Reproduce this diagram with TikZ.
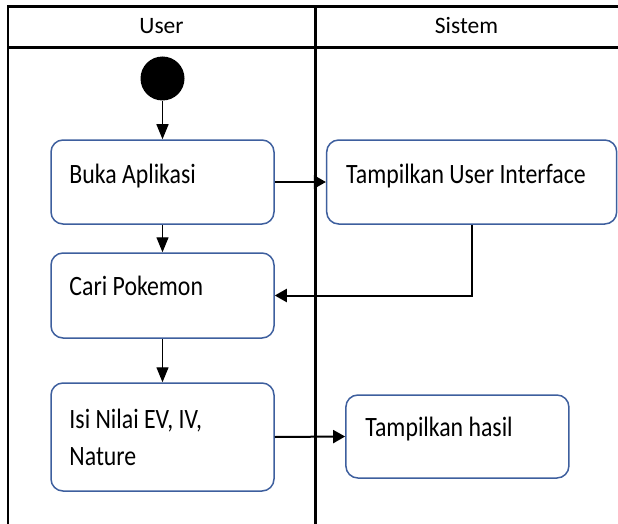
\documentclass[tikz,border=0pt]{standalone}
\usepackage{fontspec}
\setmainfont{Carlito}
\newfontfamily\bodyfont{Carlito}[FakeStretch=0.85]
\usetikzlibrary{arrows.meta}
\definecolor{boxblue}{RGB}{62,95,158}
\tikzset{
  frame/.style={line width=2.8pt, black},
  actbox/.style={draw=boxblue, line width=1.5pt, rounded corners=12pt, inner sep=0pt},
  startdot/.style={circle, fill=black, minimum size=44pt, inner sep=0pt},
  txt/.style={font=\bodyfont\fontsize{28}{37}\selectfont, inner sep=0pt, align=left},
  hdr/.style={font=\fontsize{23.5}{28}\selectfont, inner sep=0pt},
  varr/.style={-{Triangle[length=15pt,width=12pt]}, line width=1.3pt},
  harr/.style={-{Triangle[length=12pt,width=13pt]}, line width=2pt},
}
\begin{document}
\begin{tikzpicture}[x=1pt,y=-1pt]
\useasboundingbox (0,0) rectangle (618,524);
% swimlane frame
\draw[frame] (625,6.5) -- (8,6.5) -- (8,530);
\draw[frame] (8,47.5) -- (625,47.5);
\draw[frame] (315.3,6.5) -- (315.3,530);
\node[hdr, anchor=base] (userH) at (161.5,33.3) {User};
\node[hdr, anchor=base] (sistemH) at (466.5,33.3) {Sistem};
% nodes
\node[startdot] (start) at (162.5,78.5) {};
\node[actbox, minimum width=223pt, minimum height=84pt] (buka) at (162.5,182) {};
\node[actbox, minimum width=290pt, minimum height=84pt] (tui) at (471.7,182) {};
\node[actbox, minimum width=223pt, minimum height=85pt] (cari) at (162.5,295.5) {};
\node[actbox, minimum width=223pt, minimum height=108pt] (isi) at (162.5,437) {};
\node[actbox, minimum width=223pt, minimum height=83pt] (th) at (457.4,436.5) {};
% texts
\node[txt, anchor=base west] (bukaT) at ([xshift=19pt,yshift=-1pt]buka.west) {Buka Aplikasi};
\node[txt, anchor=base west] (tuiT) at ([xshift=20pt,yshift=-1pt]tui.west) {Tampilkan User Interface};
\node[txt, anchor=base west] (cariT) at ([xshift=19pt]cari.west) {Cari Pokemon};
\node[txt, anchor=base west] (isiT) at ([xshift=19pt,yshift=-28pt]isi.west) {Isi Nilai EV, IV,\\Nature};
\node[txt, anchor=base west] (thT) at ([xshift=20pt]th.west) {Tampilkan hasil};
% connectors
\draw[varr] (start) -- (buka);
\draw[varr] (buka) -- (cari);
\draw[varr] (cari) -- (isi);
\draw[harr] (buka.east) -- (tui.west);
\draw[harr] (tui.south) |- (cari.east);
\draw[harr] (isi.east) -- (th.west);
\end{tikzpicture}
\end{document}
